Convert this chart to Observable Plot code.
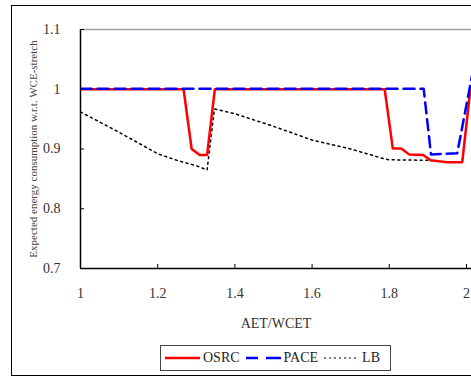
<!DOCTYPE html>
<html>
<head>
<meta charset="utf-8">
<script src="https://cdn.jsdelivr.net/npm/d3@7"></script>
<script src="https://cdn.jsdelivr.net/npm/@observablehq/plot@0.6"></script>
<style>
  html, body { margin: 0; padding: 0; background: #fff; }
  #wrap { position: relative; width: 471px; height: 376px; overflow: hidden; font-family: "Liberation Serif", "DejaVu Serif", serif; }
  #frame { position: absolute; left: 11px; top: 5px; width: 520px; height: 369px; border: 1px solid #000; pointer-events: none; }
  #chart { position: absolute; left: 0; top: 0; }
  #chart svg { font-family: "Liberation Serif", "DejaVu Serif", serif; }
  #chart g[aria-label="y-axis label"] text { font-size: 11px; fill: #444; font-weight: normal; }
  #chart g[aria-label="x-axis label"] text { font-size: 14px; fill: #333; font-weight: normal; }
  #legend { position: absolute; left: 160px; top: 345px; width: 231px; height: 26px; border: 1.5px solid #444; box-sizing: border-box;
            display: flex; align-items: center; font-size: 14px; color: #222; padding-left: 4px; }
  #legend .item { display: flex; align-items: center; margin-right: 6px; }
  #legend svg { margin-right: 3px; }
</style>
</head>
<body>
<div id="wrap">
  <div id="chart"></div>
  <div id="frame"></div>
  <div id="legend"></div>
</div>
<script>
// ---- data ----
const seriesNames = ["OSRC", "PACE", "LB"];
const seriesColors = ["#ff0000", "#0000ff", "#000000"];

const osrcX = [1.0, 1.267, 1.288, 1.309, 1.328, 1.348, 1.788, 1.809, 1.831, 1.851, 1.888, 1.907, 1.950, 1.989, 2.010];
const osrcY = [1.0, 1.0,   0.900, 0.890, 0.890, 1.0,   1.0,   0.901, 0.901, 0.891, 0.890, 0.881, 0.878, 0.878, 1.0];

const paceX = [1.0,   1.889, 1.908, 1.976, 2.018];
const paceY = [1.001, 1.001, 0.891, 0.893, 1.035];

const lbX = [1.0,   1.1,   1.2,   1.25,  1.3,   1.328, 1.347, 1.4,   1.5,   1.6,   1.7,   1.79,  1.8,   1.907, 1.950, 1.989, 2.010];
const lbY = [0.962, 0.928, 0.892, 0.881, 0.872, 0.865, 0.967, 0.959, 0.938, 0.915, 0.900, 0.883, 0.882, 0.881, 0.878, 0.878, 1.0];

const xTicks = [1, 1.2, 1.4, 1.6, 1.8, 2];
const yTicks = [0.7, 0.8, 0.9, 1, 1.1];
const xTitle = "AET/WCET";
const yTitle = "Expected energy consumption w.r.t. WCE-stretch";

// ---- build tables ----
const osrc = osrcX.map((x, i) => ({x, y: osrcY[i]}));
const pace = paceX.map((x, i) => ({x, y: paceY[i]}));
const lb = lbX.map((x, i) => ({x, y: lbY[i]}));

const W = 471, H = 376, mL = 80, mR = 0;
const xMax = 1 + (W - mL - mR) / 386; // axis continues past 2, cropped by the image edge

const chart = Plot.plot({
  width: W,
  height: H,
  marginLeft: mL,
  marginRight: mR,
  marginTop: 29,
  marginBottom: 108,
  style: {fontSize: "14px", color: "#333", background: "transparent", overflow: "visible"},
  x: {domain: [1, xMax]},
  y: {domain: [0.7, 1.1]},
  marks: [
    Plot.ruleY([1.1], {stroke: "#a0a0a0", strokeWidth: 1.5}),
    Plot.axisX({ticks: xTicks, tickFormat: d => String(d), tickSize: -4, tickPadding: 24, stroke: "#000",
                label: xTitle, labelAnchor: "center", labelArrow: "none", labelOffset: 59, fill: "#333"}),
    Plot.axisY({ticks: yTicks, tickFormat: d => String(d), tickSize: -4, tickPadding: 24, stroke: "#000",
                label: yTitle, labelAnchor: "center", labelArrow: "none", labelOffset: 51, fill: "#333"}),
    Plot.line(lb, {x: "x", y: "y", stroke: seriesColors[2], strokeWidth: 1.5, strokeDasharray: "2,3.6", clip: true}),
    Plot.line(osrc, {x: "x", y: "y", stroke: seriesColors[0], strokeWidth: 2.5, strokeLinejoin: "round", clip: true}),
    Plot.line(pace, {x: "x", y: "y", stroke: seriesColors[1], strokeWidth: 2.5, strokeDasharray: "11,6", clip: true}),
    Plot.ruleX([1], {stroke: "#000", strokeWidth: 1.5}),
    Plot.ruleY([0.7], {stroke: "#000", strokeWidth: 1.5})
  ]
});
document.getElementById("chart").appendChild(chart);

// ---- legend ----
const legend = d3.select("#legend");
const dashes = [null, "12,8,15,10", "2,3"];
const widths = [2.5, 2.5, 1.2];
seriesNames.forEach((name, i) => {
  const item = legend.append("div").attr("class", "item");
  const s = item.append("svg").attr("width", 35).attr("height", 10);
  s.append("line").attr("x1", 0).attr("x2", 35).attr("y1", 5).attr("y2", 5)
    .attr("stroke", seriesColors[i]).attr("stroke-width", widths[i])
    .attr("stroke-dasharray", dashes[i]);
  item.append("span").text(name);
});
</script>
</body>
</html>
